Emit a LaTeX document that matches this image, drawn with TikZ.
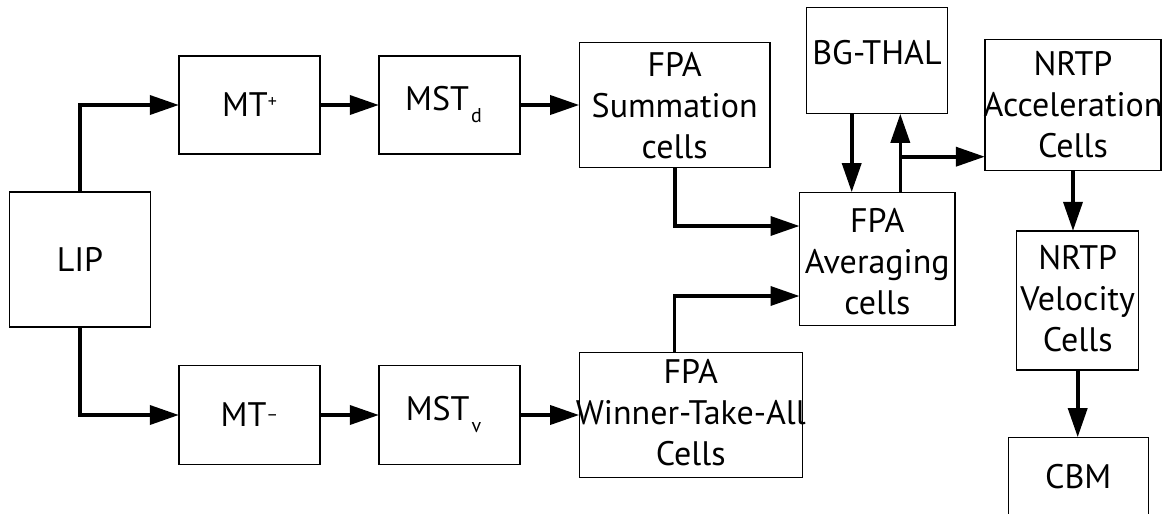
\documentclass[tikz,border=0pt]{standalone}
\usepackage{fontspec}
\setmainfont{PT Sans}
\usetikzlibrary{arrows.meta}
\tikzset{
  box/.style={draw, line width=1.3pt, rectangle, inner sep=0pt},
  txt/.style={font=\fontsize{34}{41}\selectfont, align=center, inner sep=0pt},
  conn/.style={line width=3.6pt, -{Triangle[length=29pt,width=19pt]}, shorten >=-0.5pt},
}
\newcommand{\smallsup}[1]{\raisebox{9pt}{\fontsize{18}{18}\selectfont #1}}
\newcommand{\smallsub}[1]{\raisebox{-12pt}{\fontsize{20}{20}\selectfont #1}}
\begin{document}
\begin{tikzpicture}[x=1pt,y=-1pt]
\useasboundingbox (0,0) rectangle (1162,514);
% boxes
\node[box, minimum width=141.4pt, minimum height=135pt] (lip) at (80,259.5) {};
\node[box, minimum width=141pt, minimum height=98pt] (mtp) at (249.5,105) {};
\node[box, minimum width=141pt, minimum height=98.6pt] (mtm) at (249.5,415) {};
\node[box, minimum width=141pt, minimum height=98pt] (mstd) at (449.5,105) {};
\node[box, minimum width=141pt, minimum height=98.6pt] (mstv) at (449.5,415) {};
\node[box, minimum width=190.7pt, minimum height=125.4pt] (sum) at (674.7,105) {};
\node[box, minimum width=223pt, minimum height=125.4pt] (wta) at (690.8,415) {};
\node[box, minimum width=140.6pt, minimum height=106.4pt] (bg) at (877,60.5) {};
\node[box, minimum width=155.3pt, minimum height=133.4pt] (avg) at (877.3,259) {};
\node[box, minimum width=176pt, minimum height=131.4pt] (acc) at (1073,105) {};
\node[box, minimum width=122pt, minimum height=139pt] (vel) at (1077.7,300.5) {};
\node[box, minimum width=140pt, minimum height=85.4pt] (cbm) at (1078.3,480) {};
% texts
\node[txt] (lip-t) at (lip.center) {LIP};
\node[txt] (mtp-t) at (mtp.center) {MT\smallsup{+}};
\node[txt] (mtm-t) at (mtm.center) {MT\raisebox{6pt}{\fontsize{18}{18}\selectfont \textendash}};
\node[txt] (mstd-t) at ([xshift=-6pt]mstd.center) {MST\kern2pt\smallsub{d}};
\node[txt] (mstv-t) at ([xshift=-6pt]mstv.center) {MST\kern2pt\smallsub{v}};
\node[txt] (sum-t) at ([yshift=-1pt]sum.center) {FPA\\Summation\\cells};
\node[txt] (wta-t) at ([yshift=2pt]wta.center) {FPA\\Winner-Take-All\\Cells};
\node[txt] (bg-t) at ([yshift=7.5pt]bg.center) {BG-THAL};
\node[txt] (avg-t) at ([yshift=-3pt]avg.center) {FPA\\Averaging\\cells};
\node[txt] (acc-t) at (acc.center) {NRTP\\Acceleration\\Cells};
\node[txt] (vel-t) at ([yshift=1.5pt]vel.center) {NRTP\\Velocity\\Cells};
\node[txt] (cbm-t) at (1078.3,476.7) {CBM};
% connectors
\draw[conn] (lip.north) |- (mtp.west);
\draw[conn] (lip.south) |- (mtm.west);
\draw[conn] (mtp.east) -- (mstd.west);
\draw[conn] (mtm.east) -- (mstv.west);
\draw[conn] (mstd.east) -- (sum.west);
\draw[conn] (mstv.east) -- (wta.west);
\draw[conn] (sum.south) |- ([yshift=33pt]avg.west);
\draw[conn] ([xshift=-16.5pt]wta.north) |- ([yshift=-37pt]avg.west);
\draw[conn] ([xshift=-25.3pt]bg.south) -- ([xshift=-25.3pt]bg.south |- avg.north);
\draw[conn] ([xshift=23pt]avg.north) -- ([xshift=23pt]avg.north |- bg.south);
\coordinate (br) at (900,156.7);
\draw[conn] (br) -- (br -| acc.west);
\draw[conn] (acc.south) -- (acc.south |- vel.north);
\draw[conn] (vel.south) -- (vel.south |- cbm.north);
\end{tikzpicture}
\end{document}
